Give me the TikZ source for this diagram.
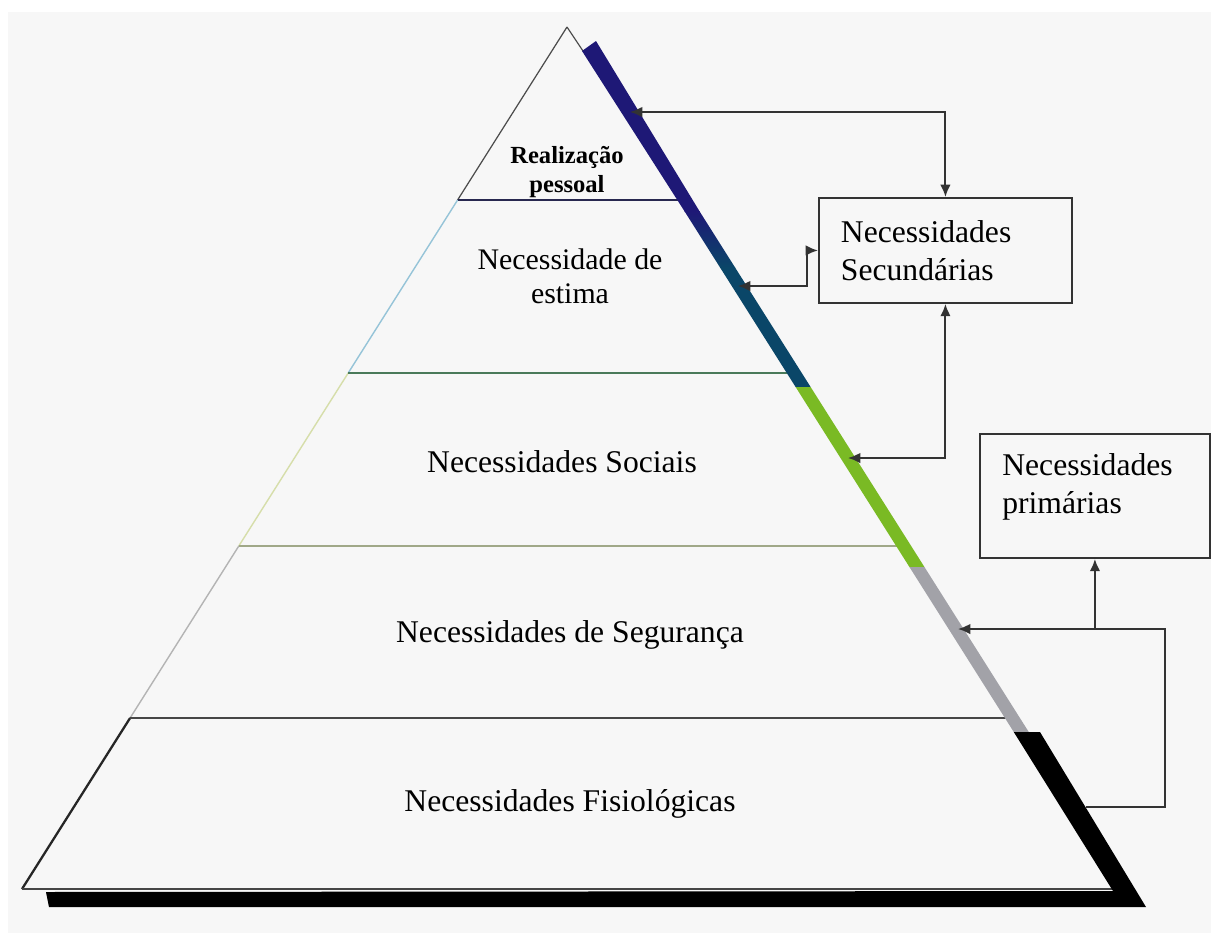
\documentclass[tikz,border=0pt]{standalone}
\usepackage{fontspec}
\setmainfont{Liberation Serif}
\usetikzlibrary{arrows.meta,calc}
\definecolor{bgpaper}{RGB}{247,247,247}
\definecolor{bandnavy}{RGB}{30,24,118}
\definecolor{bandteal}{RGB}{10,70,104}
\definecolor{bandgreen}{RGB}{122,186,36}
\definecolor{bandgray}{RGB}{162,162,168}
\definecolor{sideblue}{RGB}{150,196,216}
\definecolor{sideolive}{RGB}{214,222,170}
\definecolor{sidegray}{RGB}{180,180,180}
\definecolor{lvlnavy}{RGB}{40,40,80}
\definecolor{lvlgreen}{RGB}{74,122,90}
\definecolor{lvlolive}{RGB}{160,168,136}
\definecolor{lvldark}{RGB}{70,70,70}
\begin{document}
\begin{tikzpicture}[x=0.02cm, y=-0.02cm,
    link/.style={line width=1.1pt, draw=black!80},
    box/.style={draw=black!80, line width=1.1pt, inner sep=0pt, font=\fontsize{18}{21.6}\selectfont},
    lbl/.style={font=\fontsize{18}{21.6}\selectfont, inner sep=0pt},
    >={Latex[length=7pt,width=6pt]}]
    \def\apexx{567}
    \def\slope{0.6323}
    \useasboundingbox (0,0) rectangle (1211,933);
    \fill[white] (0,0) rectangle (1211,933);
    \fill[bgpaper] (8,12) rectangle (1211,933);
    % left side of the pyramid
    \draw[line width=0.7pt, black!70] (567,27) -- (457.6,200);
    \draw[line width=0.8pt, sideblue] (457.6,200) -- (348.2,373);
    \draw[line width=0.8pt, sideolive] (348.2,373) -- (238.8,546);
    \draw[line width=0.8pt, sidegray] (238.8,546) -- (130.1,718);
    \draw[line width=1.3pt, black!85] (130.1,718) -- (22,889);
    \draw[line width=0.7pt, black!70] (567,27) -- (583,51);
    % level lines
    \foreach \yy/\col in {200/lvlnavy, 373/lvlgreen, 546/lvlolive, 718/lvldark, 889/lvldark}
        \draw[line width=1.1pt, \col] ({\apexx-(\yy-27)*\slope},\yy) -- ({\apexx+(\yy-27)*\slope+2},\yy);
    % coloured band on the right side
    \fill[bandnavy] (582,51) -- (596,41) -- ({\apexx+(212-27)*\slope+16},212) -- ({\apexx+(212-27)*\slope+1},212) -- cycle;
    \shade[top color=bandnavy, bottom color=bandteal] ({\apexx+(211-27)*\slope+1},211) -- ++(15,0) -- ({\apexx+(268-27)*\slope+16},268) -- ++(-15,0) -- cycle;
    \foreach \ya/\yb/\col in {267/387/bandteal, 387/567/bandgreen, 567/732/bandgray}
        \fill[\col] ({\apexx+(\ya-27)*\slope+1},\ya) -- ++(15,0) -- ({\apexx+(\yb-27)*\slope+16},\yb) -- ++(-15,0) -- cycle;
    \fill[black] ({\apexx+(732-27)*\slope+1},732) -- (1040,732) -- (1146,907) -- (49,907) -- (46,892) -- (1113,891) -- cycle;
    % level texts
    \node[lbl, align=center, font=\bfseries\fontsize{14}{16}\selectfont] (rp) at (567,172) {Realização\\pessoal};
    \node[lbl, align=center, font=\fontsize{17}{19.4}\selectfont] (ne) at (570,276) {Necessidade de\\estima};
    \node[lbl, anchor=base] (ns) at (562,472) {Necessidades Sociais};
    \node[lbl, anchor=base] (nsg) at (570,642) {Necessidades de Segurança};
    \node[lbl, anchor=base] (nf) at (570,811) {Necessidades Fisiológicas};
    % boxes
    \node[box, anchor=north west, text width=4.18cm, inner xsep=0.44cm, minimum height=2.1cm, align=left] (sec) at (818,197) {Necessidades\\Secundárias};
    \node[box, anchor=north west, minimum width=4.6cm, minimum height=2.48cm] (prim) at (979,433) {};
    \node[lbl, anchor=north west, align=left] (primtxt) at ($(prim.north west)+(23,20)$) {Necessidades\\primárias};
    % connectors
    \coordinate (t1) at (630,112);
    \coordinate (t2) at (738,286);
    \coordinate (t3) at (848,458);
    \coordinate (t4) at (958,629);
    \coordinate (t5) at (1086,807);
    \draw[link, <->] (t1) -| (sec.north);
    \draw[link, <->] (t2) -- ++(69,0) |- (sec.west);
    \draw[link, <->] (t3) -| (sec.south);
    \draw[link, <-] (t4) -| (1165,700) |- (t5);
    \draw[link, ->] (t4 -| prim.south) -- (prim.south);
\end{tikzpicture}
\end{document}
